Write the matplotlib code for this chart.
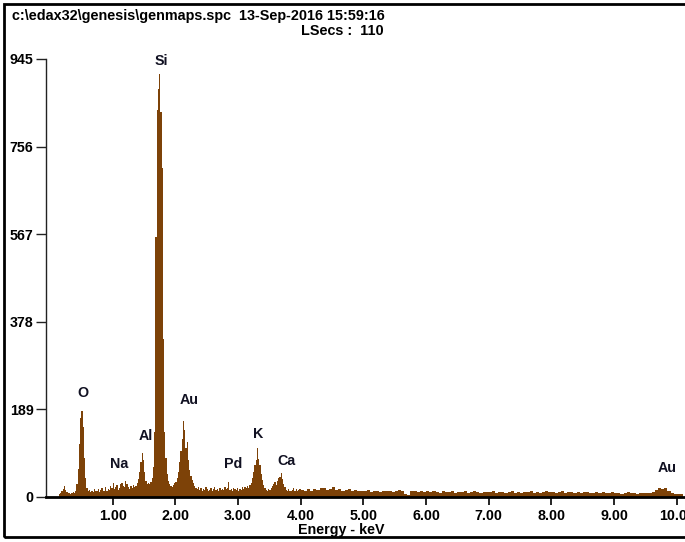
import numpy as np
import matplotlib
matplotlib.use("Agg")
import matplotlib.pyplot as plt
from matplotlib.patches import Rectangle

# ---------------- data ----------------
# counts per channel, 0.14-4.00 keV in 0.02 keV channels
counts_low = [
    6, 8, 12, 18, 24, 16, 10, 8, 9, 7,            # 0.14-0.34
    8, 10, 9, 14, 28, 60, 115, 170, 186, 150,     # 0.34-0.54  (O)
    85, 40, 20, 12, 16, 10, 14, 11, 18, 12,       # 0.54-0.74
    13, 17, 11, 15, 20, 12, 14, 22, 13, 18,       # 0.74-0.94
    16, 24, 20, 30, 18, 22, 26, 16, 20, 28,       # 0.94-1.14  (Na)
    30, 24, 22, 34, 28, 22, 18, 24, 20, 26,       # 1.14-1.34
    22, 24, 30, 38, 55, 75, 96, 80, 55, 35,       # 1.34-1.54  (Al)
    28, 30, 28, 32, 40, 65, 140, 560, 835, 880,   # 1.54-1.74  (Si)
    913, 830, 710, 340, 140, 85, 50, 35, 28, 24,  # 1.74-1.94
    22, 26, 30, 32, 40, 55, 75, 100, 125, 165,    # 1.94-2.14  (Au M)
    145, 105, 118, 80, 58, 45, 36, 30, 24, 20,    # 2.14-2.34
    18, 22, 16, 20, 14, 18, 15, 21, 17, 14,       # 2.34-2.54
    16, 19, 13, 17, 22, 15, 18, 14, 20, 16,       # 2.54-2.74
    18, 15, 22, 17, 20, 33, 16, 18, 14, 20,       # 2.74-2.94  (Pd)
    17, 15, 19, 14, 18, 16, 21, 18, 22, 20,       # 2.94-3.14
    24, 20, 26, 30, 42, 55, 68, 80, 105, 82,      # 3.14-3.34  (K)
    68, 50, 36, 26, 20, 16, 14, 18, 15, 20,       # 3.34-3.54
    24, 28, 32, 26, 34, 40, 44, 52, 38, 28,       # 3.54-3.74  (Ca)
    22, 16, 13, 18, 14, 12, 16, 19, 14, 17,       # 3.74-3.94
    13, 15, 18,                                   # 3.94-4.00
]
# counts per channel, 4.00-10.10 keV in 0.05 keV channels
counts_high = [
    16, 14, 18, 13, 17, 15, 19, 20, 16, 18,
    21, 15, 17, 14, 16, 18, 13, 15, 12, 14,
    13, 15, 11, 12, 14, 10, 13, 12, 14, 11,
    13, 15, 12, 6, 5, 12, 14, 10, 12, 11,
    12, 10, 13, 11, 9, 12, 10, 11, 13, 9,
    11, 10, 12, 9, 11, 13, 10, 9, 11, 10,
    10, 12, 9, 11, 10, 8, 11, 12, 9, 10,
    9, 11, 10, 12, 8, 10, 9, 11, 13, 10,
    11, 9, 10, 12, 9, 11, 10, 8, 10, 9,
    10, 11, 9, 8, 10, 9, 11, 8, 9, 10,
    8, 9, 7, 9, 10, 8, 9, 7, 8, 9,
    8, 9, 10, 16, 20, 18, 19, 13, 8, 7,           # Au L
    7, 6,
]

element_names = ["O", "Na", "Al", "Si", "Au", "Pd", "K", "Ca", "Au"]
element_label_keV = [0.53, 1.10, 1.53, 1.78, 2.22, 2.92, 3.32, 3.78, 9.84]
element_label_counts = [224, 71, 132, 940, 209, 71, 136, 78, 63]

y_ticks = [0, 189, 378, 567, 756, 945]
x_ticks = [1.0, 2.0, 3.0, 4.0, 5.0, 6.0, 7.0, 8.0, 9.0, 10.0]

header_line1 = "c:\\edax32\\genesis\\genmaps.spc  13-Sep-2016 15:59:16"
header_line2 = "LSecs :  110"
x_label = "Energy - keV"

# ---------------- plot ----------------
W, H = 685, 542
fig = plt.figure(figsize=(W / 100, H / 100), dpi=100)
plt.rcParams["font.family"] = ["Liberation Sans", "DejaVu Sans"]

def fx(px):
    return px / W

def fy(py):
    return 1 - py / H

ax = fig.add_axes([fx(46), fy(497), fx(685) - fx(46), fy(59) - fy(497)])
ax.set_xlim(-0.064, 10.13)
ax.set_ylim(0, 945)

edges_low = np.round(np.arange(len(counts_low) + 1) * 0.02 + 0.14, 3)
edges_high = np.round(np.arange(len(counts_high) + 1) * 0.05 + 4.00, 3)
edges = np.concatenate([edges_low, edges_high[1:]])
counts = np.array(counts_low + counts_high, dtype=float)

brown = "#7d4208"
ax.stairs(counts, edges, fill=True, color=brown, linewidth=0)

for s in ["top", "right"]:
    ax.spines[s].set_visible(False)
ax.spines["left"].set_linewidth(1.0)
ax.spines["left"].set_color("#222222")
ax.spines["bottom"].set_linewidth(2.0)
ax.spines["bottom"].set_color("black")

ax.set_yticks(y_ticks)
ax.set_yticklabels([str(v) for v in y_ticks], fontsize=10.3, fontweight="bold")
ax.set_xticks(x_ticks)
ax.set_xticklabels([f"{v:.2f}" for v in x_ticks], fontsize=10.3, fontweight="bold")
ax.tick_params(axis="y", direction="out", length=7, width=1, pad=2, color="#222222")
ax.tick_params(axis="x", direction="out", length=6, width=1.2, pad=3, color="black")
ax.patch.set_alpha(0)

for name, ex, ey in zip(element_names, element_label_keV, element_label_counts):
    ax.text(ex, ey, name, ha="center", va="center", fontsize=10.3,
            fontweight="bold", color="#111122", clip_on=False)

fig.text(fx(341), fy(530), x_label, ha="center", va="center",
         fontsize=10.3, fontweight="bold")
fig.text(fx(12), fy(16), header_line1, ha="left", va="center",
         fontsize=10.4, fontweight="bold")
fig.text(fx(384), fy(31), header_line2, ha="right", va="center",
         fontsize=10.4, fontweight="bold")

# outer frame (right side cropped off like the reference)
fig.patches.append(Rectangle((fx(4), fy(537)), fx(700) - fx(4), fy(4) - fy(537),
                             transform=fig.transFigure, fill=False,
                             edgecolor="black", linewidth=2, clip_on=True))

fig.savefig("out.png", dpi=100)
